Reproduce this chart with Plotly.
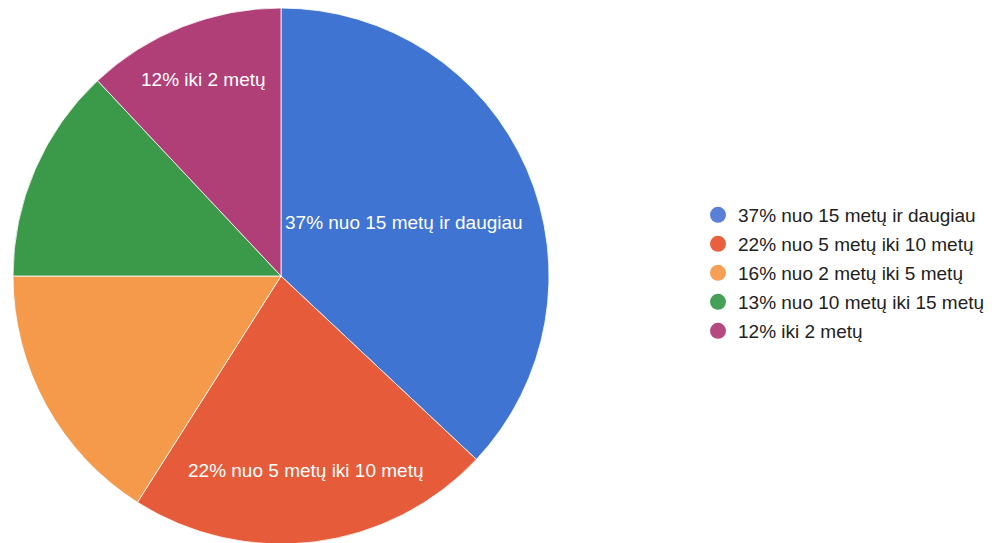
import math
import plotly.graph_objects as go

# ---- data ----
labels = [
    "37% nuo 15 metų ir daugiau",
    "22% nuo 5 metų iki 10 metų",
    "16% nuo 2 metų iki 5 metų",
    "13% nuo 10 metų iki 15 metų",
    "12% iki 2 metų",
]
values = [37, 22, 16, 13, 12]
show_label = [True, True, False, False, True]

# ---- style ----
colors = ["#3f74d2", "#e65b3a", "#f59a4a", "#3a9a4a", "#b03f78"]
legend_colors = ["#5a7fd6", "#e8603e", "#f5a054", "#45a058", "#b44a80"]
label_radius_frac = [0.50, 0.73, 0.6, 0.6, 0.79]
W, H = 992, 543
# pie geometry in plot pixels
cx, cy, R = 273, 268, 268
font_family = "Liberation Sans, Arial, sans-serif"

fig = go.Figure()
fig.add_trace(go.Pie(
    labels=labels, values=values, sort=False, direction="clockwise", rotation=0,
    marker=dict(colors=colors, line=dict(color="rgba(255,255,255,0.8)", width=1)),
    textinfo="none", hoverinfo="label", showlegend=False,
    domain=dict(x=[(cx - R) / W, (cx + R) / W],
                y=[max(0, 1 - (cy + R) / H), min(1, 1 - (cy - R) / H)]),
))

# legend entries with circular markers
for lab, col in zip(labels, legend_colors):
    fig.add_trace(go.Scatter(
        x=[None], y=[None], mode="markers", name=lab, legendgroup=lab,
        marker=dict(color=col, size=16, symbol="circle"),
    ))

# slice labels placed from data (mid angle of each slice)
total = sum(values)
cum = 0
annotations = []
for v, lab, show, f in zip(values, labels, show_label, label_radius_frac):
    mid = (cum + v / 2) / total * 2 * math.pi
    cum += v
    if not show:
        continue
    px = cx + R * f * math.sin(mid)
    py = cy - R * f * math.cos(mid)
    annotations.append(dict(
        x=px / W, y=1 - py / H, xref="paper", yref="paper", text=lab,
        showarrow=False, font=dict(color="white", size=19, family=font_family),
        xanchor="center", yanchor="middle",
    ))

fig.update_layout(
    width=W, height=H,
    margin=dict(l=0, r=0, t=0, b=0),
    paper_bgcolor="white", plot_bgcolor="white",
    xaxis=dict(visible=False), yaxis=dict(visible=False),
    annotations=annotations,
    legend=dict(
        x=690 / W, y=1 - 188 / H, xanchor="left", yanchor="top",
        font=dict(size=19, color="#222222", family=font_family),
        itemclick=False, tracegroupgap=1.3,
    ),
    font=dict(family=font_family),
)

fig.write_html("out.html")
